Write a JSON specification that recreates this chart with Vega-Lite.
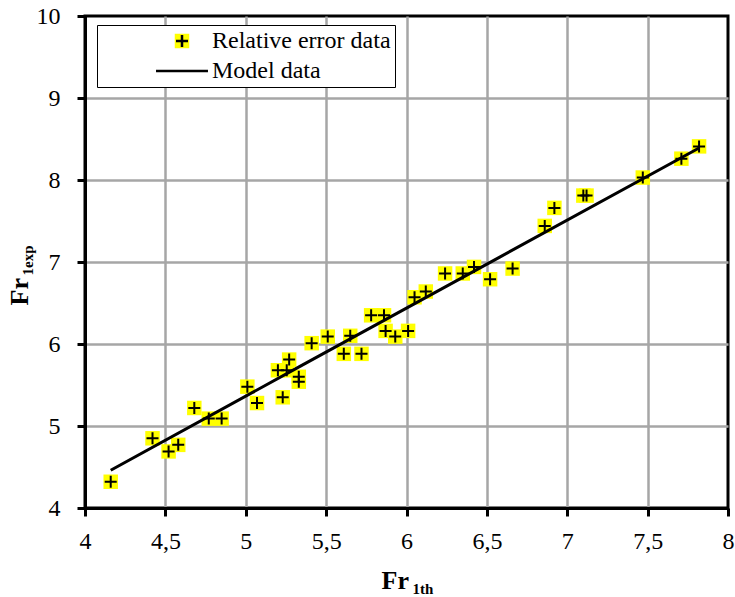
{
  "$schema": "https://vega.github.io/schema/vega-lite/v6.json",
  "width": 643,
  "height": 492,
  "autosize": "none",
  "padding": {"left": 85, "top": 16, "right": 7, "bottom": 89},
  "background": "white",
  "config": {
    "font": "Liberation Serif",
    "view": {"stroke": "black", "strokeWidth": 3},
    "axis": {"titleFont": "Liberation Serif", "labelFont": "Liberation Serif", "titleColor": "black", "labelColor": "black"},
    "legend": {"labelFont": "Liberation Serif", "labelLimit": 0}
  },
  "datasets": {
    "points": [
      {"x": 4.16, "y": 4.32}, {"x": 4.42, "y": 4.85}, {"x": 4.52, "y": 4.69}, {"x": 4.58, "y": 4.77},
      {"x": 4.68, "y": 5.22}, {"x": 4.77, "y": 5.09}, {"x": 4.85, "y": 5.09}, {"x": 5.01, "y": 5.48},
      {"x": 5.07, "y": 5.28}, {"x": 5.20, "y": 5.68}, {"x": 5.255, "y": 5.68}, {"x": 5.27, "y": 5.81},
      {"x": 5.23, "y": 5.35}, {"x": 5.33, "y": 5.60}, {"x": 5.33, "y": 5.54}, {"x": 5.41, "y": 6.01},
      {"x": 5.51, "y": 6.09}, {"x": 5.61, "y": 5.88}, {"x": 5.65, "y": 6.10}, {"x": 5.72, "y": 5.88},
      {"x": 5.78, "y": 6.35}, {"x": 5.86, "y": 6.35}, {"x": 5.87, "y": 6.16}, {"x": 5.93, "y": 6.09},
      {"x": 6.01, "y": 6.16}, {"x": 6.05, "y": 6.57}, {"x": 6.12, "y": 6.64}, {"x": 6.24, "y": 6.86},
      {"x": 6.35, "y": 6.86}, {"x": 6.42, "y": 6.94}, {"x": 6.52, "y": 6.79}, {"x": 6.66, "y": 6.92},
      {"x": 6.86, "y": 7.44}, {"x": 6.92, "y": 7.66}, {"x": 7.10, "y": 7.81}, {"x": 7.12, "y": 7.81},
      {"x": 7.47, "y": 8.03}, {"x": 7.71, "y": 8.26}, {"x": 7.82, "y": 8.41}
    ],
    "model": [
      {"x": 4.16, "y": 4.46}, {"x": 5.34, "y": 5.73}, {"x": 6.58, "y": 7.06}, {"x": 7.82, "y": 8.39}
    ]
  },
  "layer": [
    {
      "data": {"name": "points"},
      "mark": {"type": "point", "shape": "square", "filled": true, "size": 210, "strokeWidth": 0, "opacity": 1},
      "encoding": {
        "x": {
          "field": "x", "type": "quantitative",
          "scale": {"domain": [4, 8], "nice": false, "zero": false},
          "axis": {
            "values": [4, 4.5, 5, 5.5, 6, 6.5, 7, 7.5, 8],
            "labelExpr": "replace(toString(datum.value), '.', ',')",
            "labelFont": "Liberation Serif",
            "labelFontSize": 24, "labelPadding": 13, "labelFlush": false, "labelOverlap": false,
            "tickSize": 8, "tickWidth": 3, "tickColor": "black",
            "domainWidth": 3, "domainColor": "black",
            "grid": true, "gridColor": "#a6a6a6", "gridWidth": 2.5,
            "gridOpacity": {"condition": {"test": "datum.value === 4 || datum.value === 8", "value": 0}, "value": 1},
            "title": "Fr", "titleFont": "Liberation Serif", "titleFontSize": 26, "titleFontWeight": "bold",
            "titleAlign": "left", "titleBaseline": "alphabetic", "titleX": 296, "titleY": 80
          }
        },
        "y": {
          "field": "y", "type": "quantitative",
          "scale": {"domain": [4, 10], "nice": false, "zero": false},
          "axis": {
            "values": [4, 5, 6, 7, 8, 9, 10],
            "labelFont": "Liberation Serif",
            "labelFontSize": 24, "labelPadding": 17,
            "tickSize": 8, "tickWidth": 3, "tickColor": "black",
            "domainWidth": 3, "domainColor": "black",
            "grid": true, "gridColor": "#a6a6a6", "gridWidth": 2.5,
            "gridOpacity": {"condition": {"test": "datum.value === 4 || datum.value === 10", "value": 0}, "value": 1},
            "title": "Fr", "titleFont": "Liberation Serif", "titleFontSize": 26, "titleFontWeight": "bold", "titleAngle": 270,
            "titleAlign": "left", "titleBaseline": "alphabetic", "titleX": -58, "titleY": 289
          }
        },
        "fill": {
          "datum": "a",
          "scale": {"domain": ["a", "b"], "range": ["#ffff00", "transparent"]},
          "legend": {
            "orient": "none", "legendX": 12, "legendY": 9, "title": null,
            "padding": 4, "fillColor": "white", "strokeColor": "black",
            "symbolType": "square", "symbolSize": 210, "symbolStrokeWidth": 0,
            "symbolOffset": 69, "labelOffset": 18, "rowPadding": 6,
            "labelFont": "Liberation Serif", "labelFontSize": 24, "labelOpacity": 0, "labelLimit": 0,
            "labelExpr": "datum.value == 'a' ? 'Relative error data' : 'Model data'",
            "encode": {"legend": {"update": {"strokeWidth": {"value": 2}}}}
          }
        }
      }
    },
    {
      "data": {"name": "model"},
      "mark": {"type": "line", "stroke": "black", "strokeWidth": 3},
      "encoding": {
        "x": {
          "field": "x", "type": "quantitative",
          "scale": {"domain": [4, 8], "nice": false, "zero": false},
          "axis": {
            "orient": "bottom", "domain": false, "ticks": false, "labels": false, "grid": false,
            "title": "1th", "titleFont": "Liberation Serif", "titleFontSize": 15, "titleFontWeight": "bold",
            "titleAlign": "left", "titleBaseline": "alphabetic", "titleX": 327, "titleY": 85
          }
        },
        "y": {
          "field": "y", "type": "quantitative",
          "scale": {"domain": [4, 10], "nice": false, "zero": false},
          "axis": {
            "orient": "left", "domain": false, "ticks": false, "labels": false, "grid": false,
            "title": "1exp", "titleFont": "Liberation Serif", "titleFontSize": 15, "titleFontWeight": "bold", "titleAngle": 270,
            "titleAlign": "left", "titleBaseline": "alphabetic", "titleX": -53, "titleY": 259
          }
        }
      }
    },
    {
      "data": {"name": "points"},
      "mark": {"type": "point", "filled": false, "size": 144, "stroke": "black", "strokeWidth": 2, "opacity": 1},
      "encoding": {
        "x": {"field": "x", "type": "quantitative", "scale": {"domain": [4, 8], "nice": false, "zero": false}, "axis": null},
        "y": {"field": "y", "type": "quantitative", "scale": {"domain": [4, 10], "nice": false, "zero": false}, "axis": null},
        "shape": {
          "datum": "Relative error data",
          "scale": {"domain": ["Relative error data", "Model data"], "range": ["M-1,0H1M0,-1V1", "M-4.33,0H4.33"]},
          "legend": {
            "orient": "none", "legendX": 12, "legendY": 9, "title": null,
            "padding": 4, "symbolSize": 144,
            "symbolStrokeColor": "black", "symbolStrokeWidth": 2.5, "symbolFillColor": "transparent",
            "symbolOffset": 69, "labelOffset": 18, "rowPadding": 6,
            "labelFont": "Liberation Serif", "labelFontSize": 24, "labelColor": "black", "labelLimit": 0
          }
        }
      }
    }
  ],
  "resolve": {"scale": {"x": "independent", "y": "independent"}}
}
